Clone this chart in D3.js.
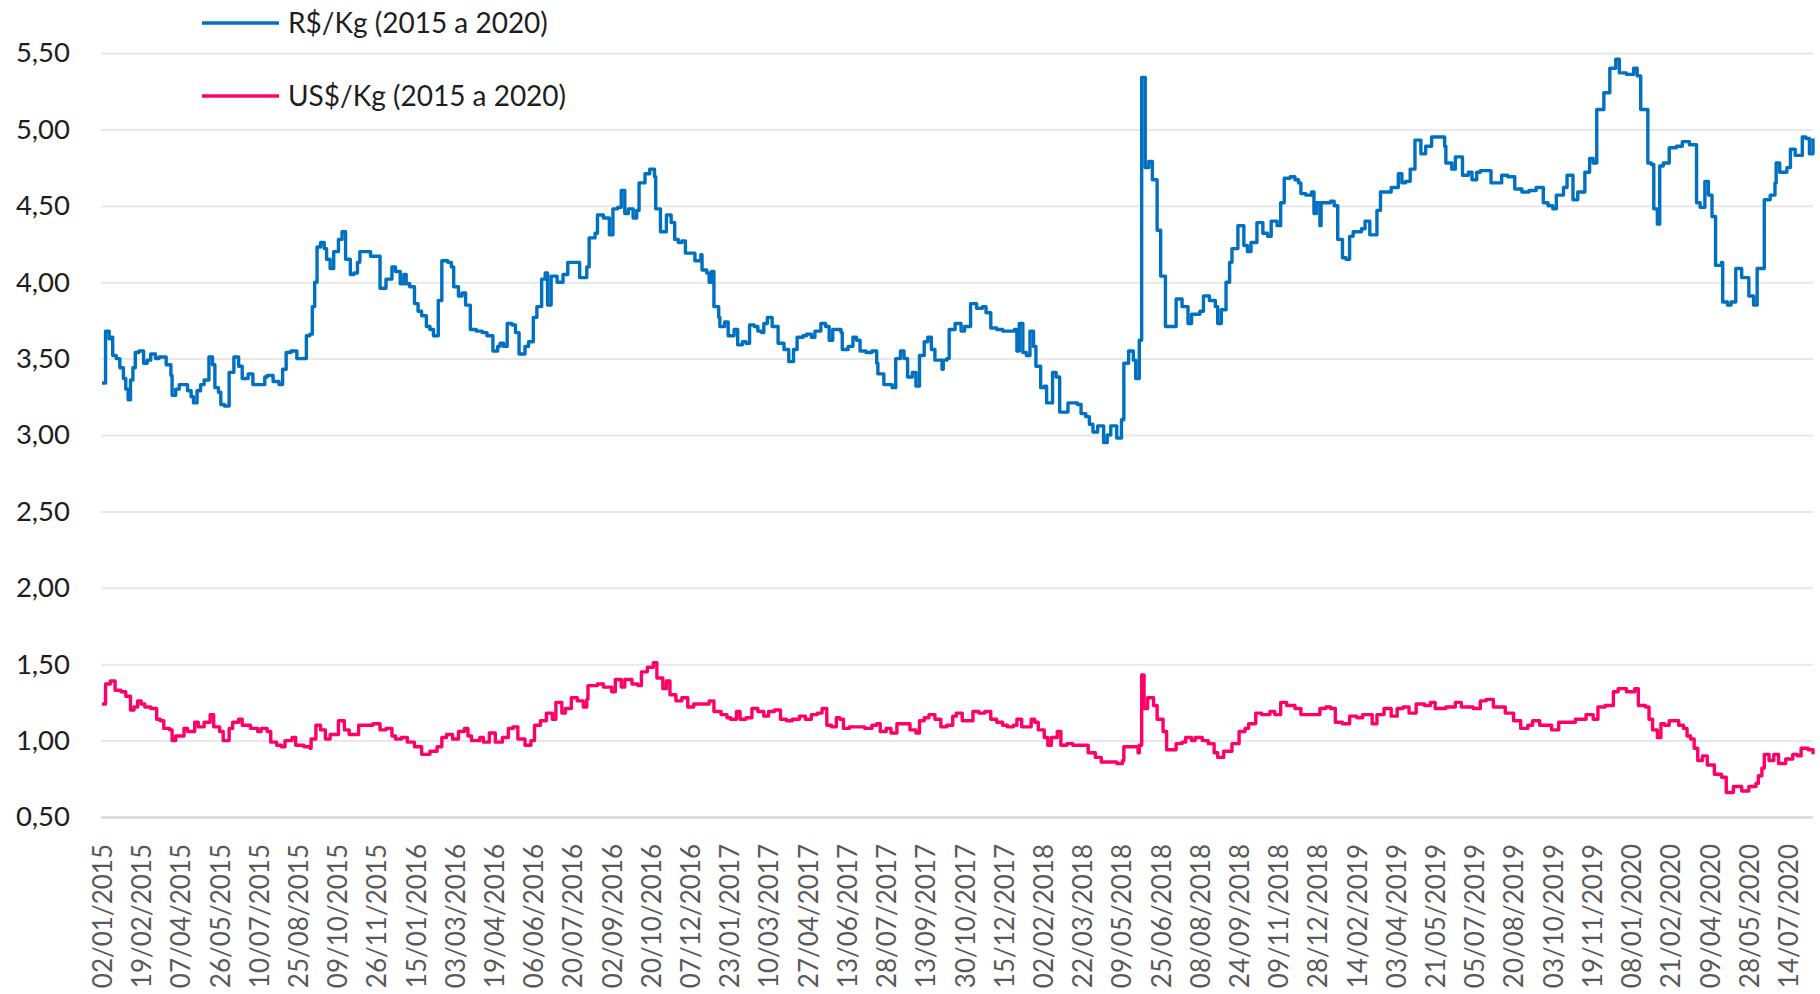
<!DOCTYPE html>
<html>
<head>
<meta charset="utf-8">
<script src="https://cdn.jsdelivr.net/npm/d3@7"></script>
<style>
  body { margin: 0; background: #fff; }
  svg text { font-family: Lato, "Open Sans", sans-serif; }
</style>
</head>
<body>
<div id="chart"></div>
<script>
// category axis: one category per trading day, a label every 33rd day
const tickLabels = [
  '02/01/2015', '19/02/2015', '07/04/2015', '26/05/2015', '10/07/2015', '25/08/2015',
  '09/10/2015', '26/11/2015', '15/01/2016', '03/03/2016', '19/04/2016', '06/06/2016',
  '20/07/2016', '02/09/2016', '20/10/2016', '07/12/2016', '23/01/2017', '10/03/2017',
  '27/04/2017', '13/06/2017', '28/07/2017', '13/09/2017', '30/10/2017', '15/12/2017',
  '02/02/2018', '22/03/2018', '09/05/2018', '25/06/2018', '08/08/2018', '24/09/2018',
  '09/11/2018', '28/12/2018', '14/02/2019', '03/04/2019', '21/05/2019', '05/07/2019',
  '20/08/2019', '03/10/2019', '19/11/2019', '08/01/2020', '21/02/2020', '09/04/2020',
  '28/05/2020', '14/07/2020'
];
const tickEvery = 33;
const yTicks = [0.5, 1, 1.5, 2, 2.5, 3, 3.5, 4, 4.5, 5, 5.5];

const seriesNames = ['R$/Kg (2015 a 2020)', 'US$/Kg (2015 a 2020)'];
const seriesColors = ['#0070C0', '#FF0066'];

// R$/Kg (trading-day index, price)
const brlDay = [
  0, 3, 6, 8, 9, 12, 15, 18, 20, 22, 24, 26, 28, 31, 35, 38, 41, 45, 48, 51, 54, 58, 59, 62, 65, 68, 72, 75, 77, 80,
  83, 86, 90, 93, 95, 98, 100, 103, 107, 111, 115, 118, 121, 123, 127, 132, 137, 139, 144, 149, 152, 155, 159, 164, 168, 172, 175, 177, 179, 181,
  184, 187, 189, 192, 195, 199, 202, 205, 209, 212, 215, 217, 222, 226, 231, 234, 239, 244, 247, 251, 254, 256, 259, 263, 266, 269, 273, 276, 279, 283,
  286, 291, 294, 296, 300, 303, 306, 310, 315, 320, 324, 329, 333, 335, 338, 341, 345, 348, 351, 356, 359, 363, 366, 370, 373, 375, 378, 383, 388, 392,
  397, 402, 405, 408, 410, 415, 417, 422, 427, 430, 434, 437, 440, 443, 447, 450, 452, 457, 461, 465, 466, 470, 475, 479, 482, 485, 488, 491, 497, 499,
  504, 505, 509, 511, 513, 515, 519, 520, 524, 527, 532, 535, 539, 542, 545, 549, 552, 555, 557, 560, 564, 569, 574, 578, 582, 585, 590, 593, 597, 600,
  605, 609, 612, 615, 618, 622, 623, 628, 632, 635, 638, 643, 648, 652, 653, 658, 665, 668, 672, 675, 678, 682, 685, 688, 692, 695, 698, 701, 707, 708,
  711, 713, 718, 723, 726, 731, 736, 741, 744, 748, 753, 758, 765, 768, 770, 772, 775, 778, 781, 784, 786, 790, 793, 795, 800, 803, 806, 813, 821, 824,
  828, 831, 834, 838, 843, 846, 849, 854, 858, 860, 864, 868, 870, 873, 875, 878, 881, 884, 888, 891, 895, 899, 904, 909, 914, 917, 924, 927, 932, 937,
  939, 942, 946, 949, 951, 956, 961, 964, 967, 972, 977, 981, 984, 989, 992, 995, 1000, 1004, 1007, 1009, 1013, 1018, 1020, 1022, 1025, 1026, 1031, 1034, 1037, 1040,
  1044, 1047, 1050, 1053, 1060, 1063, 1067, 1070, 1073, 1076, 1081, 1085, 1091, 1094, 1097, 1101, 1105, 1110, 1114, 1119, 1126, 1130, 1131, 1136, 1139, 1142, 1145, 1150, 1153, 1157,
  1160, 1166, 1169, 1175, 1178, 1183, 1189, 1195, 1201, 1207, 1213, 1217, 1221, 1224, 1230, 1233, 1238, 1242, 1248, 1252, 1255, 1258, 1264, 1269, 1274, 1277, 1283, 1289, 1292, 1295,
  1299, 1301, 1304, 1306, 1309, 1311, 1314, 1319, 1325, 1330, 1336, 1340, 1342, 1345, 1349, 1352, 1355, 1358, 1363, 1364, 1368, 1371, 1375, 1380, 1384, 1386, 1390, 1393, 1396, 1399,
  1404, 1408, 1409, 1412, 1418, 1421, 1425, 1431, 1434, 1437, 1440
];
const brlKg = [
  3.34, 3.68, 3.63, 3.64, 3.52, 3.50, 3.44, 3.37, 3.30, 3.23, 3.36, 3.44, 3.54, 3.55, 3.47, 3.49, 3.53, 3.50, 3.51, 3.51, 3.46, 3.39, 3.26, 3.30, 3.33, 3.33, 3.29, 3.25, 3.21, 3.29,
  3.33, 3.36, 3.51, 3.46, 3.31, 3.28, 3.20, 3.19, 3.41, 3.51, 3.45, 3.37, 3.37, 3.40, 3.33, 3.33, 3.38, 3.39, 3.35, 3.33, 3.43, 3.54, 3.55, 3.50, 3.50, 3.65, 3.66, 3.84, 4.00, 4.23,
  4.26, 4.22, 4.15, 4.09, 4.20, 4.28, 4.33, 4.15, 4.05, 4.06, 4.13, 4.20, 4.20, 4.17, 4.17, 3.96, 4.02, 4.10, 4.07, 3.99, 4.05, 3.99, 3.97, 3.86, 3.81, 3.78, 3.71, 3.69, 3.65, 3.88,
  4.14, 4.13, 4.10, 3.97, 3.91, 3.93, 3.85, 3.69, 3.68, 3.67, 3.65, 3.55, 3.58, 3.60, 3.58, 3.73, 3.72, 3.67, 3.53, 3.58, 3.61, 3.77, 3.84, 4.02, 4.06, 3.85, 4.04, 4.00, 4.05, 4.13,
  4.13, 4.03, 4.03, 4.10, 4.29, 4.32, 4.44, 4.42, 4.31, 4.48, 4.49, 4.60, 4.45, 4.48, 4.42, 4.47, 4.65, 4.71, 4.74, 4.69, 4.48, 4.33, 4.44, 4.39, 4.28, 4.26, 4.27, 4.19, 4.19, 4.14,
  4.18, 4.08, 4.06, 4.00, 4.07, 3.84, 3.77, 3.71, 3.74, 3.65, 3.69, 3.59, 3.61, 3.60, 3.72, 3.71, 3.68, 3.67, 3.73, 3.77, 3.71, 3.60, 3.56, 3.48, 3.56, 3.64, 3.65, 3.66, 3.64, 3.68,
  3.73, 3.71, 3.62, 3.69, 3.69, 3.67, 3.56, 3.58, 3.64, 3.62, 3.55, 3.54, 3.55, 3.47, 3.40, 3.33, 3.31, 3.50, 3.55, 3.50, 3.38, 3.41, 3.32, 3.52, 3.61, 3.64, 3.56, 3.49, 3.43, 3.49,
  3.50, 3.69, 3.73, 3.68, 3.71, 3.86, 3.83, 3.84, 3.80, 3.70, 3.69, 3.68, 3.68, 3.69, 3.55, 3.73, 3.54, 3.52, 3.68, 3.58, 3.45, 3.31, 3.32, 3.21, 3.41, 3.38, 3.15, 3.21, 3.20, 3.14,
  3.12, 3.07, 3.02, 3.06, 2.95, 3.00, 3.06, 2.98, 3.10, 3.47, 3.55, 3.49, 3.37, 3.62, 5.34, 4.75, 4.79, 4.67, 4.34, 4.04, 3.71, 3.71, 3.89, 3.84, 3.73, 3.79, 3.81, 3.91, 3.88, 3.84,
  3.73, 3.82, 4.00, 4.13, 4.22, 4.37, 4.24, 4.20, 4.26, 4.39, 4.32, 4.30, 4.40, 4.37, 4.52, 4.68, 4.69, 4.67, 4.65, 4.58, 4.57, 4.59, 4.45, 4.52, 4.37, 4.52, 4.52, 4.53, 4.50, 4.28,
  4.16, 4.15, 4.30, 4.33, 4.35, 4.40, 4.31, 4.31, 4.47, 4.59, 4.59, 4.62, 4.71, 4.65, 4.66, 4.74, 4.93, 4.84, 4.89, 4.95, 4.95, 4.89, 4.78, 4.74, 4.82, 4.82, 4.70, 4.72, 4.67, 4.72,
  4.73, 4.73, 4.65, 4.65, 4.70, 4.69, 4.61, 4.59, 4.60, 4.62, 4.52, 4.50, 4.48, 4.57, 4.62, 4.70, 4.54, 4.59, 4.72, 4.81, 4.78, 5.13, 5.24, 5.40, 5.46, 5.37, 5.36, 5.40, 5.35, 5.13,
  5.13, 4.78, 4.77, 4.48, 4.38, 4.76, 4.78, 4.88, 4.89, 4.92, 4.90, 4.90, 4.52, 4.49, 4.66, 4.57, 4.43, 4.11, 4.13, 3.87, 3.85, 3.87, 4.09, 4.03, 4.03, 3.91, 3.85, 4.09, 4.09, 4.54,
  4.57, 4.65, 4.78, 4.72, 4.75, 4.87, 4.83, 4.95, 4.94, 4.84, 4.94
];

// US$/Kg (trading-day index, price)
const usdDay = [
  0, 3, 7, 11, 16, 20, 24, 27, 30, 33, 36, 41, 46, 49, 52, 57, 59, 62, 69, 72, 78, 81, 86, 91, 94, 99, 102, 107, 110, 115,
  118, 125, 131, 134, 139, 142, 147, 151, 154, 160, 163, 170, 175, 176, 180, 184, 188, 192, 199, 204, 208, 212, 216, 221, 228, 234, 239, 244, 247, 252,
  257, 263, 269, 276, 282, 286, 290, 295, 300, 305, 308, 311, 318, 321, 326, 331, 337, 342, 346, 350, 356, 361, 364, 369, 374, 379, 382, 387, 390, 395,
  400, 405, 408, 409, 417, 422, 429, 432, 437, 440, 446, 451, 454, 459, 464, 467, 472, 475, 478, 483, 488, 493, 498, 502, 508, 511, 515, 521, 526, 529,
  534, 537, 542, 547, 552, 557, 561, 566, 571, 576, 581, 587, 592, 597, 602, 606, 610, 614, 618, 621, 624, 629, 635, 642, 648, 652, 655, 660, 664, 669,
  676, 680, 685, 688, 692, 696, 701, 706, 711, 716, 719, 724, 729, 733, 738, 743, 748, 753, 758, 762, 767, 770, 774, 778, 782, 785, 788, 793, 796, 799,
  804, 807, 812, 817, 823, 830, 836, 841, 848, 854, 859, 860, 867, 872, 873, 875, 877, 880, 885, 888, 893, 896, 901, 904, 909, 912, 917, 920, 926, 931,
  936, 939, 944, 951, 957, 962, 965, 971, 976, 983, 987, 992, 997, 1004, 1009, 1019, 1025, 1030, 1034, 1038, 1044, 1050, 1056, 1061, 1069, 1073, 1079, 1085, 1090, 1095,
  1100, 1106, 1113, 1118, 1122, 1131, 1139, 1144, 1154, 1160, 1165, 1171, 1177, 1181, 1188, 1194, 1200, 1204, 1210, 1220, 1226, 1234, 1240, 1249, 1255, 1259, 1265, 1272, 1276, 1283,
  1290, 1293, 1299, 1302, 1305, 1309, 1312, 1315, 1319, 1327, 1331, 1334, 1337, 1340, 1343, 1347, 1351, 1357, 1363, 1367, 1373, 1380, 1386, 1392, 1394, 1397, 1399, 1403, 1407, 1411,
  1417, 1423, 1427, 1430, 1436, 1440
];
const usdKg = [
  1.24, 1.37, 1.39, 1.33, 1.32, 1.29, 1.20, 1.22, 1.26, 1.24, 1.22, 1.21, 1.14, 1.13, 1.08, 1.07, 1.00, 1.03, 1.08, 1.06, 1.12, 1.09, 1.12, 1.17, 1.09, 1.06, 1.00, 1.08, 1.12, 1.14,
  1.10, 1.08, 1.06, 1.08, 1.06, 0.99, 0.97, 0.96, 1.00, 1.02, 0.97, 0.96, 0.95, 1.01, 1.10, 1.07, 1.01, 1.04, 1.13, 1.07, 1.04, 1.04, 1.10, 1.10, 1.11, 1.07, 1.08, 1.03, 1.01, 1.02,
  0.99, 0.96, 0.91, 0.93, 0.96, 1.02, 1.04, 1.01, 1.06, 1.08, 1.03, 1.00, 1.02, 0.99, 1.05, 0.99, 1.02, 1.08, 1.09, 1.01, 0.97, 1.00, 1.10, 1.13, 1.18, 1.14, 1.25, 1.18, 1.21, 1.28,
  1.26, 1.22, 1.27, 1.36, 1.37, 1.35, 1.32, 1.40, 1.35, 1.40, 1.37, 1.36, 1.45, 1.48, 1.51, 1.41, 1.34, 1.39, 1.30, 1.26, 1.28, 1.22, 1.24, 1.24, 1.24, 1.26, 1.19, 1.17, 1.15, 1.14,
  1.19, 1.14, 1.15, 1.21, 1.19, 1.16, 1.19, 1.20, 1.14, 1.13, 1.14, 1.16, 1.14, 1.17, 1.18, 1.21, 1.10, 1.09, 1.15, 1.14, 1.08, 1.09, 1.09, 1.08, 1.10, 1.11, 1.06, 1.08, 1.05, 1.11,
  1.11, 1.07, 1.05, 1.13, 1.15, 1.17, 1.14, 1.09, 1.10, 1.16, 1.18, 1.13, 1.13, 1.19, 1.18, 1.19, 1.14, 1.12, 1.10, 1.09, 1.10, 1.14, 1.09, 1.09, 1.14, 1.12, 1.07, 1.02, 0.97, 1.02,
  1.06, 0.97, 0.98, 0.97, 0.97, 0.92, 0.89, 0.86, 0.86, 0.85, 0.87, 0.96, 0.96, 0.92, 0.97, 1.43, 1.21, 1.28, 1.23, 1.14, 1.06, 0.94, 0.94, 0.98, 0.99, 1.02, 1.00, 1.02, 1.00, 0.98,
  0.92, 0.89, 0.93, 0.98, 1.06, 1.08, 1.11, 1.18, 1.17, 1.19, 1.17, 1.25, 1.23, 1.21, 1.17, 1.17, 1.21, 1.22, 1.21, 1.12, 1.11, 1.16, 1.15, 1.17, 1.11, 1.17, 1.21, 1.16, 1.21, 1.22,
  1.18, 1.24, 1.23, 1.25, 1.21, 1.22, 1.25, 1.22, 1.21, 1.26, 1.27, 1.22, 1.22, 1.18, 1.13, 1.08, 1.10, 1.13, 1.10, 1.07, 1.12, 1.12, 1.14, 1.17, 1.14, 1.22, 1.23, 1.32, 1.34, 1.32,
  1.34, 1.23, 1.22, 1.14, 1.07, 1.02, 1.11, 1.10, 1.13, 1.10, 1.08, 1.03, 1.01, 0.95, 0.87, 0.90, 0.84, 0.78, 0.76, 0.66, 0.70, 0.67, 0.70, 0.72, 0.77, 0.82, 0.91, 0.87, 0.91, 0.85,
  0.88, 0.91, 0.90, 0.95, 0.94, 0.91
];

const fmtBR = d3.formatLocale({ decimal: ',', thousands: '.', grouping: [3], currency: ['R$', ''] }).format('.2f');

class LineChart {
  constructor(width, height, domContainer) {
    this.width = width;
    this.height = height;
    this.domContainer = domContainer;
    this.plot = { left: 101, right: 1813, top: 53, bottom: 817 };
    this._svg;
    this.x;
    this.y;
  }

  _buildContainer() {
    this._svg = d3.select(this.domContainer)
      .append('svg')
      .attr('width', this.width)
      .attr('height', this.height)
      .style('display', 'block')
      .style('background', '#fff');
  }

  _buildScales() {
    this.x = d3.scaleLinear()
      .domain([0, d3.max(brlDay)])
      .range([this.plot.left + 1, this.plot.right]);
    this.y = d3.scaleLinear()
      .domain([0.5, 5.5])
      .range([this.plot.bottom, this.plot.top]);
  }

  _buildAxes() {
    const yAxis = d3.axisLeft(this.y)
      .tickValues(yTicks)
      .tickFormat(fmtBR)
      .tickSize(-(this.plot.right - this.plot.left))
      .tickPadding(31);

    const gy = this._svg.append('g')
      .attr('transform', `translate(${this.plot.left},0)`)
      .call(yAxis);
    gy.select('.domain').remove();
    gy.selectAll('.tick line')
      .attr('stroke', d => d === 0.5 ? '#d9d9d9' : '#e8e8e8')
      .attr('stroke-width', d => d === 0.5 ? 2.5 : 2);
    gy.selectAll('.tick text')
      .attr('fill', '#1e1e1e')
      .style('font-size', '27.5px');

    const xAxis = d3.axisBottom(this.x)
      .tickValues(tickLabels.map((d, i) => i * tickEvery))
      .tickFormat((d, i) => tickLabels[i])
      .tickSize(0);

    const gx = this._svg.append('g')
      .attr('transform', `translate(0,${this.plot.bottom})`)
      .call(xAxis);
    gx.select('.domain').remove();
    gx.selectAll('.tick text')
      .attr('transform', 'rotate(-90)')
      .attr('x', -27)
      .attr('y', 0)
      .attr('dy', '0.36em')
      .attr('text-anchor', 'end')
      .attr('fill', '#595959')
      .style('font-size', '26px');
  }

  _buildLines() {
    const series = [
      brlDay.map((d, i) => [d, brlKg[i]]),
      usdDay.map((d, i) => [d, usdKg[i]])
    ];
    // daily prices hold then jump, so draw as steps
    const line = d3.line()
      .curve(d3.curveStepAfter)
      .x(d => this.x(d[0]))
      .y(d => this.y(d[1]));

    this._svg.append('g')
      .selectAll('path')
      .data(series)
      .join('path')
      .attr('d', line)
      .attr('fill', 'none')
      .attr('stroke', (d, i) => seriesColors[i])
      .attr('stroke-width', 3.4)
      .attr('stroke-linejoin', 'round');
  }

  _buildLegend() {
    const item = this._svg.append('g')
      .selectAll('g')
      .data(seriesNames)
      .join('g')
      .attr('transform', (d, i) => `translate(202,${23 + i * 73})`);
    item.append('line')
      .attr('x1', 0).attr('x2', 77)
      .attr('stroke', (d, i) => seriesColors[i])
      .attr('stroke-width', 3.4);
    item.append('text')
      .attr('x', 86)
      .attr('dy', '0.36em')
      .attr('fill', '#1e1e1e')
      .style('font-size', '28px')
      .text(d => d);
  }

  init() {
    this._buildContainer();
    this._buildScales();
    this._buildAxes();
    this._buildLines();
    this._buildLegend();
  }
}

new LineChart(1820, 994, '#chart').init();
</script>
</body>
</html>
